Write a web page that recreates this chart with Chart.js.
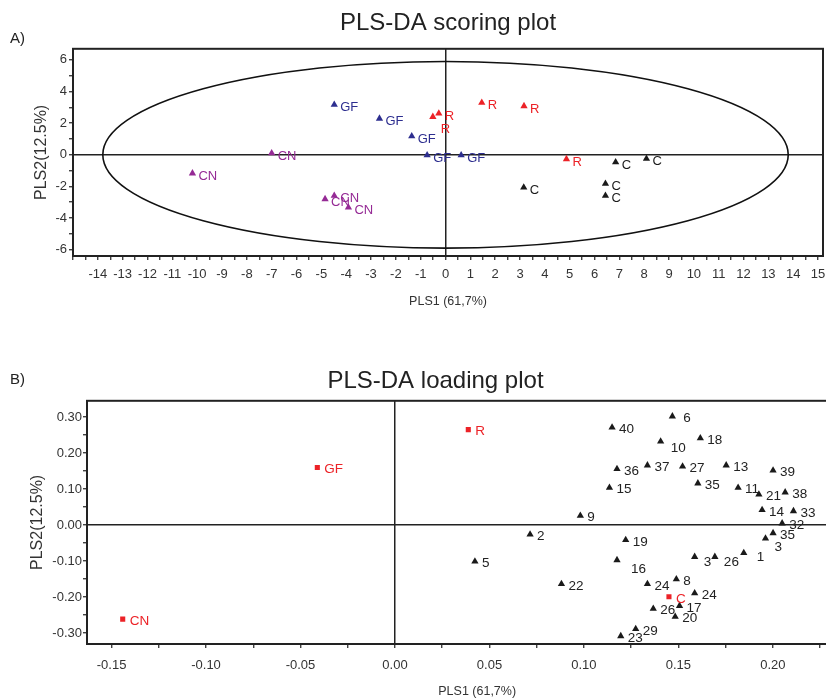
<!DOCTYPE html>
<html lang="en">
<head>
    <meta charset="UTF-8">
    <title>PLS-DA plots</title>
    <script src="https://cdn.jsdelivr.net/npm/chart.js"></script>
    <style>
        html, body { margin: 0; padding: 0; background: #fff; overflow: hidden; }
        body { width: 826px; height: 699px; position: relative; font-family: 'Liberation Sans', Arial, sans-serif; }
        .panel { position: absolute; left: 0; }
        .tag { position: absolute; left: 10px; font-size: 15px; line-height: 1; color: #222; }
    </style>
    <script>
        // --- scoring plot (A) ---
        const scoreGF_x = [-4.48, -2.66, -1.36, -0.74, 0.63];
        const scoreGF_y = [3.17, 2.29, 1.17, -0.02, -0.02];
        const scoreR_x = [-0.51, -0.27, 1.46, 3.16, 4.87];
        const scoreR_y = [2.40, 2.61, 3.29, 3.08, -0.27];
        const scoreC_x = [3.15, 6.44, 6.44, 6.85, 8.09];
        const scoreC_y = [-2.06, -1.83, -2.59, -0.47, -0.25];
        const scoreCN_x = [-10.19, -7.00, -4.85, -4.48, -3.91];
        const scoreCN_y = [-1.17, 0.10, -2.80, -2.59, -3.33];
        // Hotelling ellipse half axes
        const ellipseA = 13.8;
        const ellipseB = 5.9;

        // --- loading plot (B) ---
        const classNames = ['R', 'GF', 'C', 'CN'];
        const class_x = [0.0388, -0.0411, 0.1450, -0.1441];
        const class_y = [0.265, 0.160, -0.199, -0.261];

        const varNames = ['6', '40', '10', '18', '36', '37', '27', '13', '39', '15', '35', '11', '21', '38', '14', '33', '32', '9',
            '2', '19', '3', '35', '5', '16', '3', '26', '1', '22', '24', '8', '24', '26', '17', '20', '29', '23'];
        const var_x = [0.1468, 0.1149, 0.1406, 0.1616, 0.1175, 0.1336, 0.1522, 0.1753, 0.2001, 0.1135, 0.1603, 0.1816, 0.1926, 0.2065,
            0.1943, 0.2109, 0.2049, 0.0981, 0.0715, 0.1221, 0.1961, 0.2001, 0.0423, 0.1175, 0.1586, 0.1693, 0.1846, 0.0881,
            0.1336, 0.1489, 0.1586, 0.1367, 0.1506, 0.1483, 0.1274, 0.1195];
        const var_y = [0.302, 0.271, 0.232, 0.241, 0.156, 0.166, 0.163, 0.166, 0.152, 0.104, 0.116, 0.104, 0.085, 0.091,
            0.042, 0.039, 0.005, 0.026, -0.026, -0.041, -0.037, -0.022, -0.101, -0.097, -0.088, -0.088, -0.077, -0.163,
            -0.163, -0.150, -0.189, -0.232, -0.224, -0.254, -0.288, -0.308];

        const FONT = "'Liberation Sans', Arial, Helvetica, sans-serif";
        const RED = '#ec2227', BLUE = '#2d2e8f', PURPLE = '#952a95', BLACK = '#1a1a1a';

        // a few labels sit off their default place (dataset index -> point index -> [dx, dy])
        const scoreNudge = { 1: { 0: [2, 10] } };
        const loadNudge = { 0: { 0: [4, 0], 2: [3, 5], 20: [2, 7], 23: [7, 7], 26: [6, 2], 24: [2, 3], 25: [2, 3] } };

        function zip(xs, ys) {
            return xs.map((x, i) => ({ x: x, y: ys[i] }));
        }

        // frame around the plot area
        const framePlugin = {
            id: 'frame',
            afterDraw(chart) {
                const { ctx, chartArea: a } = chart;
                ctx.save();
                ctx.strokeStyle = '#222';
                ctx.lineWidth = 2;
                ctx.strokeRect(a.left, a.top, a.right - a.left, a.bottom - a.top);
                ctx.restore();
            }
        };

        // text next to each marker
        const pointLabels = {
            id: 'pointLabels',
            afterDatasetsDraw(chart, args, opts) {
                const ctx = chart.ctx;
                const nudge = opts.nudge || {};
                ctx.save();
                ctx.font = opts.size + 'px ' + FONT;
                ctx.textBaseline = 'middle';
                chart.data.datasets.forEach((ds, i) => {
                    const meta = chart.getDatasetMeta(i);
                    meta.data.forEach((pt, j) => {
                        const txt = ds.names ? ds.names[j] : ds.label;
                        const n = (nudge[i] && nudge[i][j]) || [0, 0];
                        ctx.fillStyle = ds.textColor || ds.backgroundColor;
                        ctx.fillText(txt, pt.x + opts.dx + n[0], pt.y + opts.dy + n[1]);
                    });
                });
                ctx.restore();
            }
        };

        const ellipsePlugin = {
            id: 'ellipse',
            beforeDatasetsDraw(chart) {
                const { ctx, scales: { x, y } } = chart;
                const cx = x.getPixelForValue(0), cy = y.getPixelForValue(0);
                const rx = x.getPixelForValue(ellipseA) - cx;
                const ry = cy - y.getPixelForValue(ellipseB);
                ctx.save();
                ctx.beginPath();
                ctx.ellipse(cx, cy, rx, ry, 0, 0, Math.PI * 2);
                ctx.lineWidth = 1.6;
                ctx.strokeStyle = '#111';
                ctx.stroke();
                ctx.restore();
            }
        };

        const zeroGrid = c => (c.tick && Math.abs(c.tick.value) < 1e-9) ? '#222' : 'transparent';

        function axis(opts) {
            return Object.assign({
                type: 'linear',
                border: { display: false },
                grid: { color: zeroGrid, tickColor: '#222', lineWidth: 1.5, tickWidth: 1.2, tickLength: 4, drawTicks: true },
            }, opts);
        }

        document.addEventListener('DOMContentLoaded', () => {
            Chart.defaults.font.family = FONT;
            Chart.defaults.color = '#333';

            const tri = { pointStyle: 'triangle', pointRadius: 4.2, borderWidth: 0 };

            new Chart(document.getElementById('scoreChart'), {
                type: 'scatter',
                data: {
                    datasets: [
                        Object.assign({ label: 'GF', data: zip(scoreGF_x, scoreGF_y), backgroundColor: BLUE }, tri),
                        Object.assign({ label: 'R', data: zip(scoreR_x, scoreR_y), backgroundColor: RED }, tri),
                        Object.assign({ label: 'C', data: zip(scoreC_x, scoreC_y), backgroundColor: BLACK }, tri),
                        Object.assign({ label: 'CN', data: zip(scoreCN_x, scoreCN_y), backgroundColor: PURPLE }, tri)
                    ]
                },
                options: {
                    responsive: false,
                    animation: false,
                    layout: { padding: { left: 0, right: 11, top: 0, bottom: 0 } },
                    plugins: {
                        legend: { display: false },
                        tooltip: { enabled: false },
                        title: {
                            display: true, text: 'PLS-DA scoring plot', color: '#222', fullSize: false,
                            font: { size: 24, weight: 'normal' }, padding: { top: 9, bottom: 11 }
                        },
                        pointLabels: { size: 13, dx: 6, dy: 3, nudge: scoreNudge }
                    },
                    scales: {
                        x: axis({
                            min: -15, max: 15.2,
                            afterFit: s => { s.height = 64; },
                            ticks: {
                                stepSize: 0.5, includeBounds: false, autoSkip: false, maxRotation: 0, minRotation: 0,
                                padding: 7, font: { size: 13 }, color: '#333',
                                callback: v => (Number.isInteger(v) && v >= -14) ? String(v) : ''
                            },
                            title: { display: true, text: 'PLS1 (61,7%)', color: '#333', font: { size: 12.5 }, padding: { top: 0, bottom: 10.5 } }
                        }),
                        y: axis({
                            min: -6.4, max: 6.7,
                            afterFit: s => { s.width = 73; },
                            ticks: {
                                stepSize: 1, includeBounds: false, autoSkip: false, padding: 2, font: { size: 13 }, color: '#333',
                                callback: v => (Math.round(v) % 2 === 0) ? String(Math.round(v)) : ''
                            },
                            title: { display: true, text: 'PLS2(12.5%)', color: '#333', font: { size: 16 }, padding: { top: 32, bottom: 0 } }
                        })
                    }
                },
                plugins: [ellipsePlugin, pointLabels, framePlugin]
            });

            new Chart(document.getElementById('loadChart'), {
                type: 'scatter',
                data: {
                    datasets: [
                        Object.assign({ label: 'vars', names: varNames, data: zip(var_x, var_y), backgroundColor: BLACK, textColor: '#222' }, tri),
                        { label: 'classes', names: classNames, data: zip(class_x, class_y), backgroundColor: RED,
                          pointStyle: 'rect', pointRadius: 3.6, borderWidth: 0 }
                    ]
                },
                options: {
                    responsive: false,
                    animation: false,
                    layout: { padding: { left: 0, right: 19, top: 0, bottom: 0 } },
                    plugins: {
                        legend: { display: false },
                        tooltip: { enabled: false },
                        title: {
                            display: true, text: 'PLS-DA loading plot', color: '#222', fullSize: true,
                            font: { size: 24, weight: 'normal' }, padding: { top: 27, bottom: 5 }
                        },
                        pointLabels: { size: 13.5, dx: 7, dy: 2, nudge: loadNudge }
                    },
                    scales: {
                        x: axis({
                            min: -0.163, max: 0.25,
                            afterFit: s => { s.height = 55; },
                            ticks: {
                                stepSize: 0.025, includeBounds: false, autoSkip: false, maxRotation: 0, minRotation: 0,
                                padding: 10, font: { size: 13 }, color: '#333',
                                callback: v => Math.abs(v * 20 - Math.round(v * 20)) < 1e-6 ? v.toFixed(2) : ''
                            },
                            title: { display: true, text: 'PLS1 (61,7%)', color: '#333', font: { size: 12.5 }, padding: { top: 0, bottom: 0 } }
                        }),
                        y: axis({
                            min: -0.33, max: 0.345,
                            afterFit: s => { s.width = 87; },
                            ticks: {
                                stepSize: 0.05, includeBounds: false, autoSkip: false, padding: 1, font: { size: 13 }, color: '#333',
                                callback: v => Math.abs(v * 10 - Math.round(v * 10)) < 1e-6 ? (Math.abs(v) < 1e-9 ? '0.00' : v.toFixed(2)) : ''
                            },
                            title: { display: true, text: 'PLS2(12.5%)', color: '#333', font: { size: 16 }, padding: { top: 28, bottom: 0 } }
                        })
                    }
                },
                plugins: [pointLabels, framePlugin]
            });
        });
    </script>
</head>
<body>
    <div class="panel" style="top:0;"><canvas id="scoreChart" width="834" height="320"></canvas></div>
    <div class="panel" style="top:340px;"><canvas id="loadChart" width="890" height="359"></canvas></div>
    <div class="tag" style="top:30px;">A)</div>
    <div class="tag" style="top:371px;">B)</div>
</body>
</html>
